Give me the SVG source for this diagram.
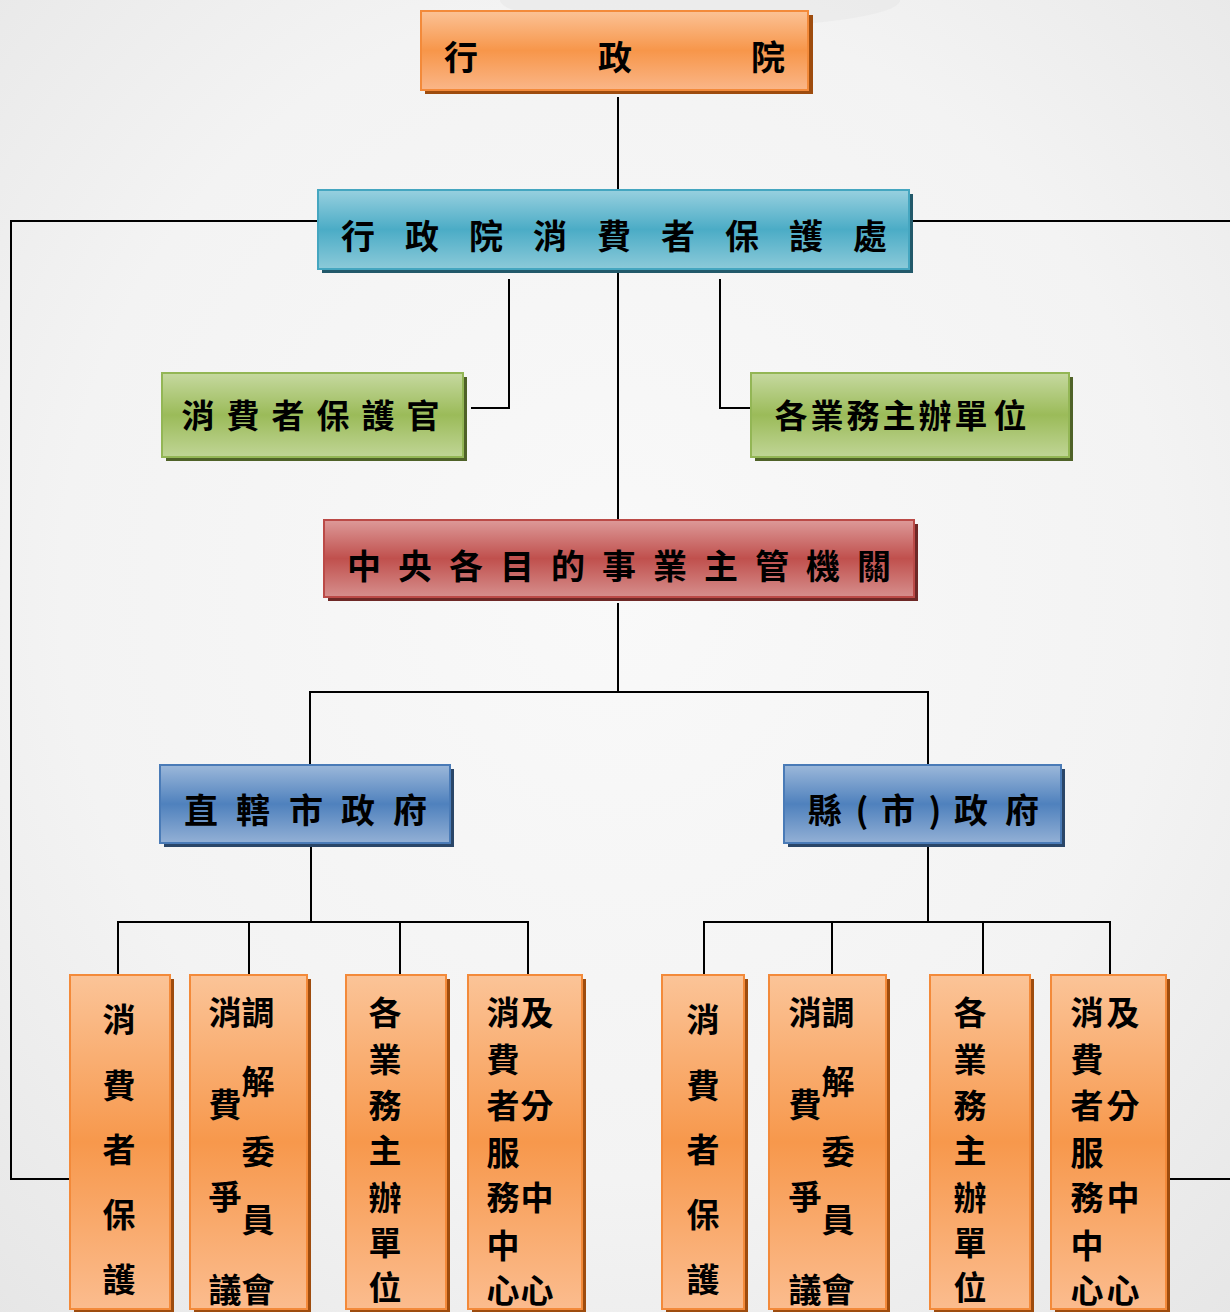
<svg xmlns="http://www.w3.org/2000/svg" width="1230" height="1312" viewBox="0 0 1230 1312">
<defs>
<radialGradient id="bg" cx="0.5" cy="0.45" r="0.75">
<stop offset="0" stop-color="#f9f9f9"/>
<stop offset="0.6" stop-color="#f3f3f3"/>
<stop offset="1" stop-color="#e6e6e6"/>
</radialGradient>
<linearGradient id="gOr" x1="0" y1="0" x2="0" y2="1">
<stop offset="0" stop-color="#fbc296"/>
<stop offset="0.5" stop-color="#f7964a"/>
<stop offset="1" stop-color="#fab688"/>
</linearGradient>
<linearGradient id="gOrT" x1="0" y1="0" x2="0" y2="1">
<stop offset="0" stop-color="#fbc498"/>
<stop offset="0.5" stop-color="#f7984c"/>
<stop offset="1" stop-color="#fbbc8e"/>
</linearGradient>
<linearGradient id="gTe" x1="0" y1="0" x2="0" y2="1">
<stop offset="0" stop-color="#98d0df"/>
<stop offset="0.5" stop-color="#4bacc6"/>
<stop offset="1" stop-color="#8ccad9"/>
</linearGradient>
<linearGradient id="gGr" x1="0" y1="0" x2="0" y2="1">
<stop offset="0" stop-color="#c6d9a0"/>
<stop offset="0.5" stop-color="#9bbb59"/>
<stop offset="1" stop-color="#c0d596"/>
</linearGradient>
<linearGradient id="gRe" x1="0" y1="0" x2="0" y2="1">
<stop offset="0" stop-color="#dd9a99"/>
<stop offset="0.5" stop-color="#c0504d"/>
<stop offset="1" stop-color="#d68f8d"/>
</linearGradient>
<linearGradient id="gBl" x1="0" y1="0" x2="0" y2="1">
<stop offset="0" stop-color="#9cb8da"/>
<stop offset="0.5" stop-color="#4f81bd"/>
<stop offset="1" stop-color="#93b0d5"/>
</linearGradient>
</defs>
<style>
.t{font-family:"Noto Sans CJK TC","Noto Sans CJK SC",sans-serif;font-weight:bold;fill:#000;text-anchor:middle}
.f34{font-size:34px}
.f33{font-size:33px}
.f32{font-size:32px}
.ln{fill:none;stroke:#000;stroke-width:2}
.or{fill:url(#gOr);stroke:#f38a3a;stroke-width:2}
.orT{fill:url(#gOrT);stroke:#f38a3a;stroke-width:2}
.orS{fill:#9e4c0e}
.te{fill:url(#gTe);stroke:#45a6c0;stroke-width:2}
.teS{fill:#22596a}
.gr{fill:url(#gGr);stroke:#93b655;stroke-width:2}
.grS{fill:#4f6228}
.re{fill:url(#gRe);stroke:#bb4a47;stroke-width:2}
.reS{fill:#6e2826}
.bl{fill:url(#gBl);stroke:#4a7bb7;stroke-width:2}
.blS{fill:#2a4668}
</style>
<rect x="0" y="0" width="1230" height="1312" fill="url(#bg)"/>
<g opacity="0.5">
<ellipse cx="700" cy="0" rx="200" ry="28" fill="#e6e6e6"/>
</g>
<g id="connectors">
<path class="ln" d="M618 97V190"/>
<path class="ln" d="M618 273V520"/>
<path class="ln" d="M509 279V408H471"/>
<path class="ln" d="M720 279V408H751"/>
<path class="ln" d="M318 221H11V1179H70"/>
<path class="ln" d="M909 221H1230"/>
<path class="ln" d="M1166 1179H1230"/>
<path class="ln" d="M618 603V692"/>
<path class="ln" d="M310 765V692H928V765"/>
<path class="ln" d="M311 847V922"/>
<path class="ln" d="M118 975V922H528V975"/>
<path class="ln" d="M249 922V975"/>
<path class="ln" d="M400 922V975"/>
<path class="ln" d="M928 847V922"/>
<path class="ln" d="M704 975V922H1110V975"/>
<path class="ln" d="M832 922V975"/>
<path class="ln" d="M983 922V975"/>
</g>
<g id="n-executive-yuan">
<rect class="orS" x="425" y="15" width="388" height="79"/>
<rect class="or" x="421" y="11" width="387" height="79"/>
<text class="t f34" x="461 615 768" y="70">行政院</text>
</g>
<g id="n-cpc">
<rect class="teS" x="322" y="194" width="591" height="79"/>
<rect class="te" x="318" y="190" width="591" height="79"/>
<text class="t f34" x="358 422 486 550 614 678 742 806 870" y="249">行政院消費者保護處</text>
</g>
<g id="n-officer">
<rect class="grS" x="166" y="377" width="301" height="84"/>
<rect class="gr" x="162" y="373" width="301" height="84"/>
<text class="t f33" x="198 243 288 333 378 423" y="428">消費者保護官</text>
</g>
<g id="n-business-units">
<rect class="grS" x="755" y="377" width="318" height="84"/>
<rect class="gr" x="751" y="373" width="318" height="84"/>
<text class="t f33" x="791 827 863 899 935 971 1010" y="428">各業務主辦單位</text>
</g>
<g id="n-central">
<rect class="reS" x="328" y="524" width="590" height="77"/>
<rect class="re" x="324" y="520" width="590" height="77"/>
<text class="t f34" x="364 415 466 517 568 619 670 721 772 823 874" y="579">中央各目的事業主管機關</text>
</g>
<g id="n-municipal">
<rect class="blS" x="164" y="769" width="290" height="78"/>
<rect class="bl" x="160" y="765" width="290" height="78"/>
<text class="t f34" x="201 253 306 358 410" y="823">直轄市政府</text>
</g>
<g id="n-county">
<rect class="blS" x="788" y="769" width="277" height="78"/>
<rect class="bl" x="784" y="765" width="277" height="78"/>
<text class="t f34" x="825 862 898 935 971 1022" y="823">縣(市)政府</text>
</g>
<g id="n-l1">
<rect class="orS" x="74" y="979" width="100" height="340"/>
<rect class="orT" x="70" y="975" width="100" height="334"/>
<text class="t f33" x="119 119 119 119 119" y="1032 1098 1162 1227 1292">消費者保護</text>
</g>
<g id="n-l2">
<rect class="orS" x="194" y="979" width="117" height="340"/>
<rect class="orT" x="190" y="975" width="117" height="334"/>
<text class="t f33" x="225 225 225 225" y="1025 1117 1209 1302">消費爭議</text>
<text class="t f33" x="258 258 258 258 258" y="1025 1094 1164 1232 1302">調解委員會</text>
</g>
<g id="n-l3">
<rect class="orS" x="350" y="979" width="100" height="340"/>
<rect class="orT" x="346" y="975" width="100" height="334"/>
<text class="t f33" x="385 385 385 385 385 385 385" y="1025 1072 1118 1163 1210 1255 1300">各業務主辦單位</text>
</g>
<g id="n-l4">
<rect class="orS" x="472" y="979" width="114" height="340"/>
<rect class="orT" x="468" y="975" width="114" height="334"/>
<text class="t f33" x="503 503 503 503 503 503 503" y="1025 1072 1118 1165 1210 1258 1303">消費者服務中心</text>
<text class="t f33" x="537 537 537 537" y="1025 1118 1210 1303">及分中心</text>
</g>
<g id="n-r1">
<rect class="orS" x="666" y="979" width="82" height="340"/>
<rect class="orT" x="662" y="975" width="82" height="334"/>
<text class="t f33" x="703 703 703 703 703" y="1032 1098 1162 1227 1292">消費者保護</text>
</g>
<g id="n-r2">
<rect class="orS" x="773" y="979" width="117" height="340"/>
<rect class="orT" x="769" y="975" width="117" height="334"/>
<text class="t f33" x="805 805 805 805" y="1025 1117 1209 1302">消費爭議</text>
<text class="t f33" x="838 838 838 838 838" y="1025 1094 1164 1232 1302">調解委員會</text>
</g>
<g id="n-r3">
<rect class="orS" x="934" y="979" width="100" height="340"/>
<rect class="orT" x="930" y="975" width="100" height="334"/>
<text class="t f33" x="970 970 970 970 970 970 970" y="1025 1072 1118 1163 1210 1255 1300">各業務主辦單位</text>
</g>
<g id="n-r4">
<rect class="orS" x="1055" y="979" width="115" height="340"/>
<rect class="orT" x="1051" y="975" width="115" height="334"/>
<text class="t f33" x="1087 1087 1087 1087 1087 1087 1087" y="1025 1072 1118 1165 1210 1258 1303">消費者服務中心</text>
<text class="t f33" x="1123 1123 1123 1123" y="1025 1118 1210 1303">及分中心</text>
</g>
</svg>
